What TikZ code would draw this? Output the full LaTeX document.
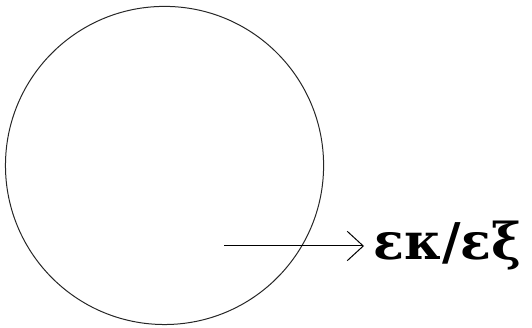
\documentclass[tikz,border=0pt]{standalone}
\usepackage{fontspec}
\setmainfont{Liberation Serif}
\newfontfamily\greco{DejaVu Serif}
\usetikzlibrary{arrows.meta,positioning}

\begin{document}
\begin{tikzpicture}[x=1pt,y=1pt,
                    cerchio/.style={draw=black!85,circle,line width=.75pt,
                                    minimum size=238.6pt,inner sep=0pt},
                    freccia/.style={line width=.75pt,shorten >=7pt,
                                    -{Straight Barb[length=12pt,width=22pt,line width=.75pt]}},
                    etichetta/.style={font=\fontsize{38}{42}\selectfont\greco\bfseries,
                                      inner sep=0pt,anchor=base west}]
  \useasboundingbox (0,0) rectangle (399,246);
  \node[cerchio] (disco) at (123.4,121.9) {};
  \coordinate (inizio) at (168,61.5);
  \node[etichetta] (flusso) at (280,51.5) {εκ/εξ};
  \draw[freccia] (inizio) -- (inizio -| flusso.west);
\end{tikzpicture}
\end{document}
